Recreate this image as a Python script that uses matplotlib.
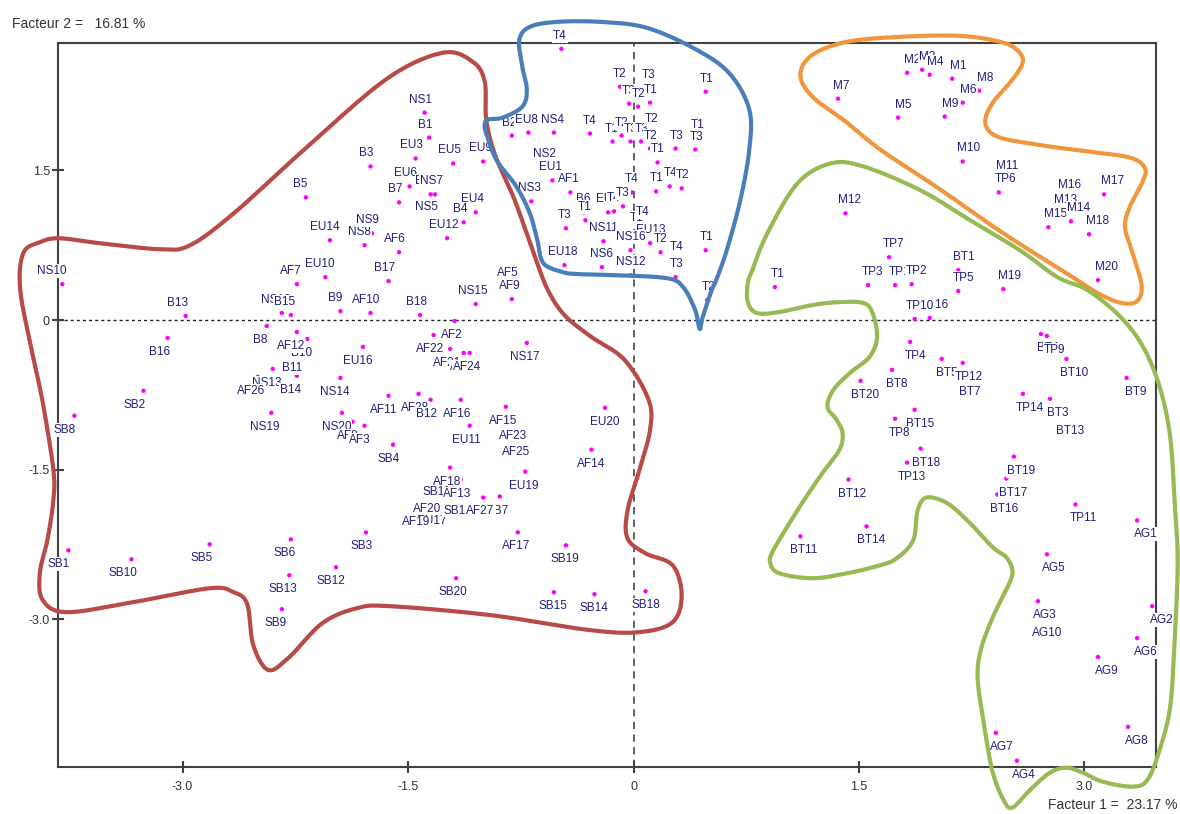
import matplotlib.pyplot as plt
import numpy as np

plt.rcParams['font.family'] = ['Liberation Sans', 'DejaVu Sans']

# individuals (factor 1, factor 2)
names = [
    # AF / B / EU / NS / SB group
    'NS10', 'AF7', 'T4', 'NS1', 'B1', 'B2', 'EU8', 'NS4', 'T4', 'EU3', 'EU5', 'EU9',
    'B3', 'NS2', 'EU1', 'AF1', 'B6', 'T1', 'B5', 'EU6', 'B7', 'EU7', 'NS7', 'NS5',
    'EU4', 'B4', 'EU12', 'NS3', 'T3', 'EU18', 'EU14', 'NS8', 'NS9', 'AF6', 'EU10', 'B17',
    'AF5', 'AF9', 'B13', 'NS18', 'B15', 'B9', 'AF10', 'B18', 'NS15', 'B16', 'SB2', 'B8',
    'B10', 'AF12', 'B11', 'NS13', 'B14', 'AF26', 'NS19', 'SB8', 'AF2', 'AF22', 'AF21', 'AF4',
    'AF24', 'NS17', 'EU16', 'NS14', 'AF11', 'AF28', 'B12', 'AF16', 'AF15', 'AF23', 'AF25', 'NS20',
    'AF8', 'AF3', 'EU11', 'SB4', 'EU19', 'AF18', 'SB11', 'AF13', 'EU17', 'AF19', 'AF20', 'SB16',
    'SB7', 'AF27', 'AF17', 'SB3', 'EU20', 'AF14', 'SB1', 'SB10', 'SB5', 'SB6', 'SB13', 'SB9',
    'SB12', 'SB20', 'SB19', 'SB15', 'SB14', 'SB18',
    # T group
    'T2', 'T3', 'T1', 'T3', 'T2', 'T1', 'T1', 'T2', 'T3', 'T3', 'T2', 'T2',
    'T1', 'T3', 'T1', 'T3', 'T1', 'T4', 'T2', 'T4', 'EU2', 'T4', 'T3', 'T1',
    'T4', 'EU13', 'NS11', 'NS16', 'T2', 'T4', 'T3', 'T1', 'NS6', 'NS12', 'T2', 'T1',
    # M group
    'M7', 'M12', 'M2', 'M3', 'M4', 'M1', 'M8', 'M6', 'M9', 'M5', 'M10', 'M11',
    'TP6', 'M16', 'M13', 'M15', 'M14', 'M17', 'M18', 'M20', 'M19',
    # TP / BT / AG group
    'TP7', 'BT1', 'TP3', 'TP1', 'TP2', 'TP5', 'TP16', 'TP10', 'TP4', 'BT5', 'BT7', 'TP12',
    'BT8', 'BT20', 'BT4', 'TP9', 'BT10', 'BT9', 'TP14', 'BT3', 'BT13', 'BT15', 'TP8', 'BT18',
    'TP13', 'BT19', 'BT17', 'BT16', 'TP11', 'AG1', 'BT12', 'BT14', 'BT11', 'AG5', 'AG3', 'AG10',
    'AG2', 'AG6', 'AG9', 'AG8', 'AG7', 'AG4',
]

fac1 = [
    -3.80, -2.24, -0.48, -1.39, -1.36, -0.81, -0.70, -0.53, -0.29, -1.45, -1.20, -1.00,
    -1.75, -0.58, -0.54, -0.42, -0.33, -0.32, -2.18, -1.49, -1.56, -1.35, -1.32, -1.35,
    -1.05, -1.13, -1.24, -0.68, -0.45, -0.46, -2.02, -1.79, -1.74, -1.56, -2.05, -1.63,
    -0.82, -0.81, -2.98, -2.34, -2.28, -1.95, -1.75, -1.42, -1.05, -3.10, -3.26, -2.44,
    -2.17, -2.24, -2.23, -2.40, -2.24, -2.50, -2.41, -3.72, -1.19, -1.33, -1.22, -1.13,
    -1.09, -0.71, -1.80, -1.95, -1.63, -1.43, -1.35, -1.15, -0.85, -0.79, -0.77, -1.94,
    -1.87, -1.79, -1.09, -1.60, -0.72, -1.22, -1.29, -1.15, -1.32, -1.42, -1.35, -1.15,
    -0.89, -1.00, -0.77, -1.78, -0.19, -0.28, -3.76, -3.34, -2.82, -2.28, -2.29, -2.34,
    -1.98, -1.18, -0.45, -0.53, -0.26, 0.08,
    -0.09, 0.10, 0.11, -0.03, 0.03, 0.48, -0.14, -0.08, -0.02, 0.05, 0.12, 0.11,
    0.16, 0.28, 0.42, 0.41, 0.15, 0.24, 0.32, -0.01, -0.17, -0.13, -0.07, 0.02,
    0.06, 0.11, -0.20, -0.02, 0.18, 0.28, 0.28, 0.48, -0.21, -0.02, 0.49, 0.94,
    1.36, 1.41, 1.82, 1.92, 1.97, 2.12, 2.30, 2.19, 2.07, 1.76, 2.19, 2.44,
    2.43, 2.85, 2.82, 2.76, 2.91, 3.13, 3.03, 3.09, 2.46,
    1.70, 2.16, 1.56, 1.74, 1.85, 2.16, 1.97, 1.87, 1.84, 2.05, 2.20, 2.19,
    1.72, 1.51, 2.71, 2.75, 2.88, 3.28, 2.59, 2.77, 2.85, 1.87, 1.74, 1.91,
    1.82, 2.53, 2.48, 2.42, 2.94, 3.35, 1.43, 1.55, 1.11, 2.75, 2.69, 2.70,
    3.45, 3.35, 3.09, 3.29, 2.41, 2.55,
]

fac2 = [
    0.36, 0.36, 2.72, 2.08, 1.83, 1.85, 1.88, 1.88, 1.87, 1.62, 1.57, 1.59,
    1.54, 1.53, 1.40, 1.28, 1.08, 1.00, 1.23, 1.34, 1.18, 1.26, 1.26, 1.00,
    1.08, 0.98, 0.82, 1.19, 0.92, 0.55, 0.80, 0.75, 0.87, 0.68, 0.43, 0.39,
    0.34, 0.21, 0.04, 0.07, 0.05, 0.09, 0.07, 0.05, 0.16, -0.18, -0.71, -0.06,
    -0.19, -0.12, -0.34, -0.49, -0.56, -0.57, -0.93, -0.96, -0.01, -0.15, -0.29, -0.33,
    -0.33, -0.23, -0.27, -0.58, -0.76, -0.74, -0.80, -0.80, -0.87, -1.02, -1.18, -0.93,
    -1.02, -1.06, -1.06, -1.25, -1.52, -1.48, -1.58, -1.60, -1.88, -1.89, -1.75, -1.77,
    -1.77, -1.78, -2.13, -2.13, -0.88, -1.30, -2.31, -2.40, -2.25, -2.20, -2.56, -2.90,
    -2.48, -2.59, -2.26, -2.73, -2.75, -2.72,
    2.34, 2.33, 2.18, 2.17, 2.14, 2.29, 1.79, 1.85, 1.79, 1.79, 1.89, 1.72,
    1.58, 1.72, 1.83, 1.71, 1.29, 1.34, 1.32, 1.28, 1.08, 1.09, 1.14, 0.89,
    0.95, 0.77, 0.79, 0.70, 0.68, 0.60, 0.43, 0.70, 0.53, 0.45, 0.20, 0.33,
    2.22, 1.07, 2.48, 2.51, 2.46, 2.42, 2.30, 2.18, 2.04, 2.03, 1.59, 1.41,
    1.28, 1.22, 1.07, 0.93, 0.99, 1.26, 0.86, 0.40, 0.31,
    0.63, 0.50, 0.35, 0.35, 0.36, 0.29, 0.02, 0.01, -0.22, -0.39, -0.58, -0.43,
    -0.50, -0.61, -0.14, -0.16, -0.39, -0.58, -0.74, -0.79, -0.97, -0.90, -0.99, -1.29,
    -1.43, -1.37, -1.59, -1.75, -1.85, -2.01, -1.60, -2.07, -2.17, -2.35, -2.82, -3.00,
    -2.87, -3.19, -3.38, -4.08, -4.14, -4.42,
]

# hand-drawn group outlines (control points, factor units)
red_x = [-1.27, -1.07, -0.99, -0.98, -0.92, -0.79, -0.66, -0.57, -0.46, -0.29, -0.06, 0.10,
         0.11, 0.04, -0.04, -0.04, 0.08, 0.26, 0.32, 0.26, 0.04, -0.29, -0.95, -1.62,
         -1.84, -2.07, -2.29, -2.43, -2.53, -2.57, -2.66, -2.82, -3.33, -3.77, -3.93, -3.95,
         -3.90, -3.86, -3.86, -3.93, -4.00, -4.08, -4.06, -3.95, -3.82, -3.55, -3.15, -2.95,
         -2.66, -2.22, -1.65]
red_y = [2.68, 2.59, 2.39, 2.01, 1.65, 1.20, 0.65, 0.30, 0.05, -0.16, -0.40, -0.80,
         -1.10, -1.50, -1.91, -2.19, -2.34, -2.46, -2.76, -3.03, -3.13, -3.11, -2.96, -2.87,
         -2.89, -3.04, -3.38, -3.51, -3.26, -2.85, -2.73, -2.69, -2.83, -2.93, -2.81, -2.54,
         -2.21, -1.81, -1.50, -0.83, -0.33, 0.30, 0.67, 0.78, 0.82, 0.77, 0.71, 0.75,
         1.07, 1.67, 2.41]

blue_x = [-0.97, -0.87, -0.74, -0.71, -0.74, -0.76, -0.69, -0.51, -0.22, 0.09, 0.42, 0.64,
          0.77, 0.77, 0.71, 0.62, 0.55, 0.52, 0.46, 0.44, 0.41, 0.33, 0.22, -0.13,
          -0.36, -0.47, -0.60, -0.64, -0.69, -0.78, -0.91, -0.98, -0.99]
blue_y = [2.01, 2.03, 2.14, 2.31, 2.54, 2.81, 2.94, 2.99, 2.99, 2.93, 2.71, 2.47,
          2.11, 1.71, 1.20, 0.70, 0.40, 0.30, 0.03, -0.09, 0.10, 0.33, 0.42, 0.45,
          0.46, 0.48, 0.57, 0.80, 1.07, 1.34, 1.60, 1.87, 1.96]

orange_x = [1.11, 1.19, 1.42, 1.77, 2.17, 2.44, 2.55, 2.59, 2.52, 2.39, 2.34, 2.42,
            2.68, 3.02, 3.30, 3.40, 3.39, 3.30, 3.27, 3.32, 3.38, 3.35, 3.25, 3.10,
            2.90, 2.46, 2.02, 1.64, 1.42, 1.19]
orange_y = [2.46, 2.66, 2.79, 2.84, 2.85, 2.79, 2.71, 2.59, 2.41, 2.18, 1.98, 1.84,
            1.76, 1.69, 1.63, 1.53, 1.40, 1.13, 0.93, 0.67, 0.35, 0.19, 0.17, 0.26,
            0.45, 0.87, 1.33, 1.71, 1.98, 2.24]

green_x = [0.79, 0.89, 1.09, 1.31, 1.53, 1.91, 2.24, 2.57, 2.82, 3.02, 3.24, 3.39,
           3.50, 3.57, 3.60, 3.62, 3.60, 3.57, 3.50, 3.42, 3.32, 3.12, 2.99, 2.88,
           2.77, 2.64, 2.52, 2.46, 2.39, 2.34, 2.29, 2.31, 2.39, 2.50, 2.52, 2.48,
           2.39, 2.24, 2.09, 1.95, 1.89, 1.86, 1.75, 1.64, 1.42, 1.19, 0.97, 0.91,
           0.93, 1.09, 1.24, 1.37, 1.39, 1.35, 1.29, 1.33, 1.44, 1.57, 1.62, 1.59,
           1.53, 1.37, 1.19, 0.97, 0.82, 0.76, 0.76]
green_y = [0.50, 0.87, 1.37, 1.57, 1.54, 1.30, 1.00, 0.70, 0.43, 0.30, 0.03, -0.27,
           -0.67, -1.17, -1.84, -2.41, -3.21, -3.88, -4.31, -4.61, -4.68, -4.63, -4.54, -4.49,
           -4.54, -4.71, -4.89, -4.81, -4.54, -4.14, -3.61, -3.31, -2.98, -2.64, -2.51, -2.38,
           -2.28, -2.04, -1.84, -1.78, -1.91, -2.21, -2.39, -2.46, -2.54, -2.59, -2.54, -2.44,
           -2.31, -1.91, -1.57, -1.30, -1.13, -1.00, -0.87, -0.70, -0.53, -0.37, -0.17, 0.07,
           0.17, 0.18, 0.15, 0.08, 0.07, 0.18, 0.37]


def closed_curve(xs, ys, n=24):
    # closed Catmull-Rom curve through the control points
    p = np.column_stack([xs, ys])
    m = len(p)
    t = np.linspace(0, 1, n, endpoint=False)[:, None]
    segs = []
    for i in range(m):
        p0, p1, p2, p3 = p[i - 1], p[i], p[(i + 1) % m], p[(i + 2) % m]
        segs.append(0.5 * (2 * p1 + (p2 - p0) * t
                           + (2 * p0 - 5 * p1 + 4 * p2 - p3) * t ** 2
                           + (3 * p1 - p0 - 3 * p2 + p3) * t ** 3))
    c = np.vstack(segs)
    return np.vstack([c, c[:1]])


fig = plt.figure(figsize=(11.8, 8.14), dpi=100)
ax = fig.add_axes([0.0494, 0.0581, 0.9303, 0.8894])
ax.set_xlim(-3.827, 3.476)
ax.set_ylim(-4.48, 2.781)

ax.axhline(0, color='#222222', lw=1.0, ls=(0, (2.2, 2.2)), zorder=1)
ax.axvline(0, color='#555555', lw=1.3, ls=(0, (4, 3)), zorder=1)

ax.scatter(fac1, fac2, s=10, color='#ff00ff', edgecolor='none', zorder=3)

for i, (nm, x, y) in enumerate(zip(names, fac1, fac2)):
    dy = 13 if y > 0 else -14
    ax.annotate(nm, (x, y), xytext=(2.7 * x, dy), textcoords='offset pixels',
                ha='center', va='center', fontsize=8.5, color='#1f1f7a',
                annotation_clip=False, zorder=4 + i * 0.001,
                bbox=dict(boxstyle='square,pad=0.08', fc='white', ec='none'))

for xs, ys, col in [(red_x, red_y, '#b84b45'), (blue_x, blue_y, '#4a7ebb'),
                    (orange_x, orange_y, '#f0963c'), (green_x, green_y, '#98b954')]:
    c = closed_curve(xs, ys)
    ax.plot(c[:, 0], c[:, 1], color=col, lw=3.0, clip_on=False, zorder=6,
            solid_capstyle='round', solid_joinstyle='round')

for s in ax.spines.values():
    s.set_color('#404040')
    s.set_linewidth(1.5)
    s.set_zorder(2)

ax.set_xticks([-3.0, -1.5, 0, 1.5, 3.0])
ax.set_xticklabels(['-3.0', '-1.5', '0', '1.5', '3.0'])
ax.set_yticks([-3.0, -1.5, 0, 1.5])
ax.set_yticklabels(['-3.0', '-1.5', '0', '1.5'])
ax.tick_params(direction='inout', length=8, width=1.5, color='#404040',
               labelsize=9, labelcolor='#333333')
ax.tick_params(axis='x', pad=6)
ax.tick_params(axis='y', pad=2)

fig.text(12 / 1180, 1 - 24 / 814, 'Facteur 2 =   16.81 %', fontsize=10,
         color='#333333', va='center', ha='left')
fig.text(1178 / 1180, 1 - 805 / 814, 'Facteur 1 =  23.17 %', fontsize=10,
         color='#333333', va='center', ha='right')

fig.savefig('out.png', dpi=100)
